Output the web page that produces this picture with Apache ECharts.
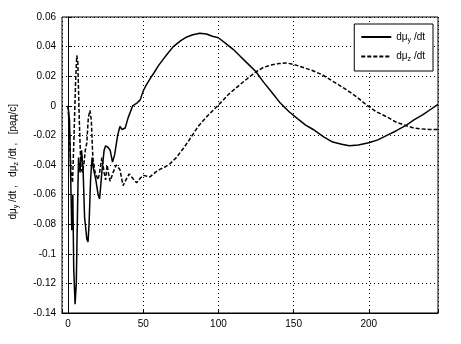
<!DOCTYPE html>
<html>
<head>
<meta charset="utf-8">
<script src="https://cdn.jsdelivr.net/npm/echarts@6/dist/echarts.min.js"></script>
<style>
  html, body { margin: 0; padding: 0; background: #fff; }
  #chart { width: 461px; height: 344px; }
</style>
</head>
<body>
<div id="chart"></div>
<script>
// dmu_y/dt (solid)
var xSolid = [0, 1, 2, 2.5, 3.2, 3.8, 4.7, 5.5, 6.5, 7, 8, 9, 10, 11, 12.5, 13.3, 14, 15, 16, 17, 18.5, 20, 21,
  22.5, 24, 25, 26.5, 28, 29.6, 31, 33, 34.5, 36, 38, 40, 43, 46, 48, 50, 52, 55, 57, 60, 63, 66, 70, 75, 79,
  83, 87.6, 92, 96, 100, 105, 110, 115, 120, 125, 130, 136, 141, 147, 153, 158, 163, 170, 176, 182, 187, 193,
  200, 206, 212, 218, 225, 230, 236, 241, 246]
var ySolid = [0, -0.01, -0.06, -0.084, -0.06, -0.11, -0.134, -0.12, -0.06, -0.035, -0.045, -0.03, -0.042, -0.075,
  -0.09, -0.092, -0.08, -0.05, -0.035, -0.043, -0.05, -0.06, -0.063, -0.045, -0.03, -0.027, -0.028, -0.03,
  -0.038, -0.033, -0.02, -0.014, -0.016, -0.015, -0.008, 0, 0.002, 0.004, 0.01, 0.014, 0.019, 0.022, 0.027,
  0.031, 0.035, 0.040, 0.044, 0.0465, 0.048, 0.049, 0.0485, 0.047, 0.046, 0.042, 0.038, 0.033, 0.028, 0.023,
  0.016, 0.0085, 0.002, -0.004, -0.009, -0.013, -0.016, -0.021, -0.0245, -0.026, -0.027, -0.0265, -0.025,
  -0.023, -0.020, -0.017, -0.013, -0.0095, -0.006, -0.0025, 0.001]

// dmu_z/dt (dashed)
var xDash = [0, 1, 2, 3, 4, 5, 5.8, 6.5, 7.5, 8.5, 9.5, 10.5, 11.5, 12.5, 13.5, 14.6, 15.5, 16.5, 18, 20, 21,
  22.5, 24, 25, 26, 27, 28, 30, 32, 34.5, 36.6, 38.5, 40.7, 43, 45.6, 48, 50, 54.5, 58, 61, 65, 68, 72, 76.5,
  80, 86.5, 93, 100, 107, 114, 120, 125, 130, 135, 140, 145, 150, 156, 162, 169, 177, 185, 192, 198.5, 205,
  212, 218, 225, 230, 234, 240, 246]
var yDash = [0, -0.02, -0.045, -0.052, -0.02, 0.015, 0.034, 0.03, -0.01, -0.04, -0.045, -0.04, -0.03, -0.025,
  -0.008, -0.003, -0.01, -0.035, -0.045, -0.05, -0.045, -0.035, -0.045, -0.05, -0.04, -0.046, -0.051, -0.045,
  -0.04, -0.043, -0.054, -0.05, -0.046, -0.049, -0.052, -0.049, -0.047, -0.048, -0.045, -0.043, -0.041,
  -0.039, -0.035, -0.029, -0.024, -0.014, -0.0065, 0.0005, 0.008, 0.014, 0.019, 0.023, 0.026, 0.0275, 0.0285,
  0.029, 0.028, 0.026, 0.024, 0.021, 0.016, 0.011, 0.006, 0.0005, -0.004, -0.0075, -0.011, -0.0135, -0.015,
  -0.0155, -0.016, -0.016]

var seriesNames = ['dμy/dt', 'dμz/dt']

function pairs(xs, ys) {
  return xs.map(function(x, i) { return [x, ys[i]] })
}

var font = 'Liberation Sans'
var subRich = {
  a: { fontFamily: font, fontSize: 10, color: '#000' },
  s: { fontFamily: font, fontSize: 7, color: '#000', padding: [6, 0, 0, 0] }
}

var chart = echarts.init(document.getElementById('chart'))
chart.setOption({
  animation: false,
  backgroundColor: '#fff',
  grid: {
    left: 62,
    right: 23,
    top: 17,
    bottom: 31,
    show: true,
    borderColor: '#000',
    borderWidth: 1
  },
  legend: {
    orient: 'vertical',
    right: 28,
    top: 24,
    width: 85,
    padding: [8, 8, 8, 6],
    itemGap: 8,
    itemWidth: 30,
    itemHeight: 10,
    backgroundColor: '#fff',
    borderColor: '#000',
    borderWidth: 1,
    borderRadius: 0,
    itemStyle: { opacity: 0 },
    data: seriesNames,
    formatter: function(name) {
      return name === seriesNames[0]
        ? '{a|dμ}{s|y}{a| /dt}'
        : '{a|dμ}{s|z}{a| /dt}'
    },
    textStyle: { rich: subRich }
  },
  graphic: [{
    type: 'text',
    left: 8,
    top: 104,
    rotation: Math.PI / 2,
    style: {
      text: '{a|dμ}{s|y}{a| /dt ,   dμ}{s|z}{a| /dt ,   [рад/с]}',
      rich: subRich
    }
  }],
  xAxis: {
    type: 'value',
    min: -4,
    max: 246,
    axisLine: { onZero: false, lineStyle: { color: '#000' } },
    axisTick: { inside: true, length: 4, lineStyle: { color: '#000' } },
    axisLabel: {
      color: '#000',
      fontFamily: font,
      fontSize: 10,
      margin: 6,
      formatter: function(v) { return v % 50 === 0 ? String(v) : '' }
    },
    splitLine: { show: true, lineStyle: { color: '#000', type: [1, 3], width: 1 } }
  },
  yAxis: {
    type: 'value',
    min: -0.14,
    max: 0.06,
    interval: 0.02,
    axisLine: { lineStyle: { color: '#000' } },
    axisTick: { inside: true, length: 4, lineStyle: { color: '#000' } },
    axisLabel: {
      color: '#000',
      fontFamily: font,
      fontSize: 10,
      margin: 6,
      formatter: function(v) { return String(parseFloat(v.toFixed(2))) }
    },
    splitLine: { show: true, lineStyle: { color: '#000', type: [1, 3], width: 1 } }
  },
  series: [
    {
      name: seriesNames[0],
      type: 'line',
      symbol: 'none',
      data: pairs(xSolid, ySolid),
      lineStyle: { color: '#000', width: 1.5 },
      itemStyle: { color: '#000' }
    },
    {
      name: seriesNames[1],
      type: 'line',
      symbol: 'none',
      data: pairs(xDash, yDash),
      lineStyle: { color: '#000', width: 1.5, type: [4, 2] },
      itemStyle: { color: '#000' }
    }
  ]
})
</script>
</body>
</html>
